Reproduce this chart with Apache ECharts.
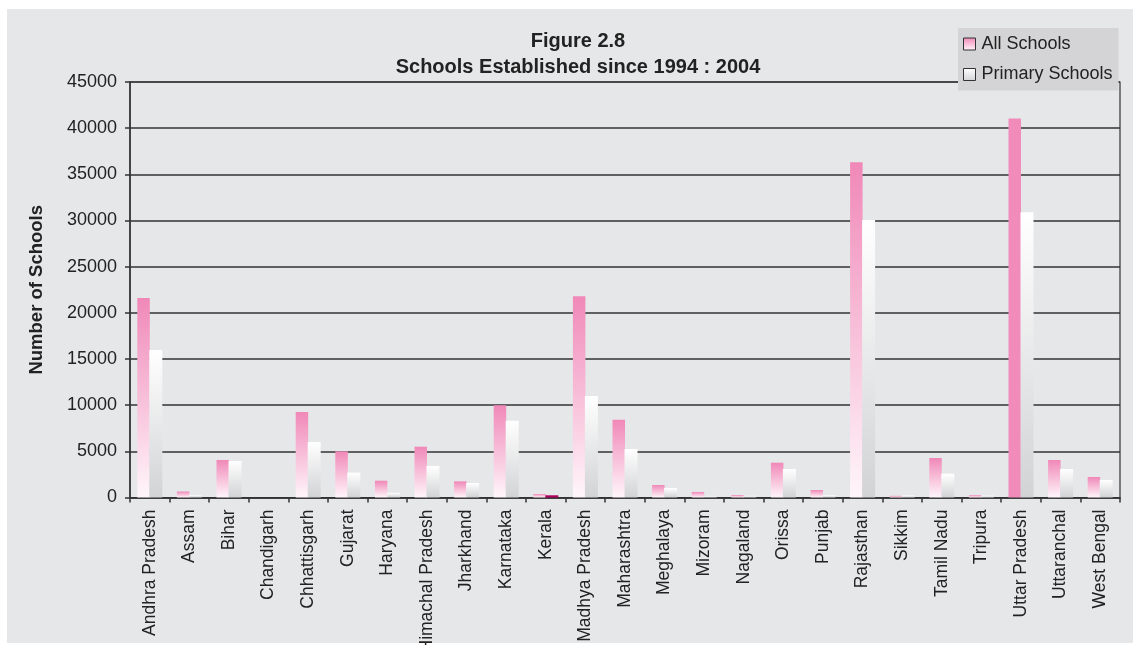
<!DOCTYPE html>
<html>
<head>
<meta charset="utf-8">
<script src="https://cdn.jsdelivr.net/npm/echarts@6/dist/echarts.min.js"></script>
<style>
html,body{margin:0;padding:0;background:#fff;}
#c{width:1133px;height:645px;}
</style>
</head>
<body>
<div id="c"></div>
<script>
const states = ['Andhra Pradesh','Assam','Bihar','Chandigarh','Chhattisgarh','Gujarat','Haryana','Himachal Pradesh','Jharkhand','Karnataka','Kerala','Madhya Pradesh','Maharashtra','Meghalaya','Mizoram','Nagaland','Orissa','Punjab','Rajasthan','Sikkim','Tamil Nadu','Tripura','Uttar Pradesh','Uttaranchal','West Bengal'];
const allSchools = [21600,650,4060,0,9250,5000,1820,5500,1750,10000,380,21800,8430,1350,600,270,3770,810,36300,180,4280,250,41050,4060,2220];
const primarySchools = [15980,280,3950,0,6000,2700,500,3420,1570,8300,240,11000,5250,1030,170,180,3090,260,30050,230,2580,200,30900,3090,1900];
const yTicks = [0,5000,10000,15000,20000,25000,30000,35000,40000,45000];

const pinkGrad = {type:'linear',x:0,y:0,x2:0,y2:1,colorStops:[{offset:0,color:'#f088b8'},{offset:1,color:'#fff6fa'}]};
const grayGrad = {type:'linear',x:0,y:0,x2:0,y2:1,colorStops:[{offset:0,color:'#ffffff'},{offset:1,color:'#d2d3d5'}]};

const allData = allSchools.map((v,i)=> states[i]==='Uttar Pradesh' ? {value:v,itemStyle:{color:'#f08bba'}} : v);
const primData = primarySchools.map((v,i)=> states[i]==='Kerala' ? {value:v,itemStyle:{color:'#b0005e'}} : v);

const chart = echarts.init(document.getElementById('c'));
chart.setOption({
  backgroundColor:'#ffffff',
  animation:false,
  textStyle:{fontFamily:'Liberation Sans, Arial, sans-serif'},
  graphic:[{type:'rect',z:-100,shape:{x:7,y:9,width:1126,height:634},style:{fill:'#e6e7e9'}}],
  title:{
    text:'Figure 2.8\nSchools Established since 1994 : 2004',
    left:573, top:23, textAlign:'center',
    textStyle:{fontSize:20,fontWeight:'bold',color:'#222',lineHeight:26,fontFamily:'Liberation Sans, Arial, sans-serif'}
  },
  legend:{
    orient:'vertical', left:958, top:28,
    backgroundColor:'#d4d4d6', padding:[7,6,7,5], itemGap:12.5,
    itemWidth:12, itemHeight:12, icon:'rect',
    textStyle:{fontSize:18,color:'#222',padding:[0,0,0,1]},
    data:[
      {name:'All Schools',itemStyle:{color:pinkGrad,borderColor:'#333',borderWidth:1}},
      {name:'Primary Schools',itemStyle:{color:grayGrad,borderColor:'#333',borderWidth:1}}
    ]
  },
  grid:{left:130,right:13,top:82,bottom:147.5,outerBoundsMode:'none',containLabel:false,show:true,borderColor:'#333',borderWidth:1.2,backgroundColor:'transparent'},
  xAxis:{
    type:'category', data:states,
    axisLine:{lineStyle:{color:'#333',width:1.5}},
    axisTick:{show:true,alignWithLabel:false,length:5,lineStyle:{color:'#333',width:1.5}},
    axisLabel:{rotate:90,fontSize:17.5,color:'#222',margin:12,interval:0}
  },
  yAxis:{
    type:'value', min:0, max:45000, interval:5000,
    name:'Number of Schools', nameLocation:'middle', nameGap:84, nameRotate:90,
    nameTextStyle:{fontSize:18.5,fontWeight:'bold',color:'#222'},
    axisLine:{show:true,lineStyle:{color:'#333',width:1.5}},
    axisTick:{show:true,length:5,lineStyle:{color:'#333',width:1.5}},
    axisLabel:{fontSize:18,color:'#222',margin:13,formatter:v=>yTicks.includes(v)?String(v):''},
    splitLine:{lineStyle:{color:'#333',width:1.5}}
  },
  series:[
    {name:'All Schools',type:'bar',data:allData,barWidth:12.5,barGap:'-4%',barCategoryGap:'36%',itemStyle:{color:pinkGrad}},
    {name:'Primary Schools',type:'bar',data:primData,barWidth:13,itemStyle:{color:grayGrad}}
  ]
});
</script>
</body>
</html>
